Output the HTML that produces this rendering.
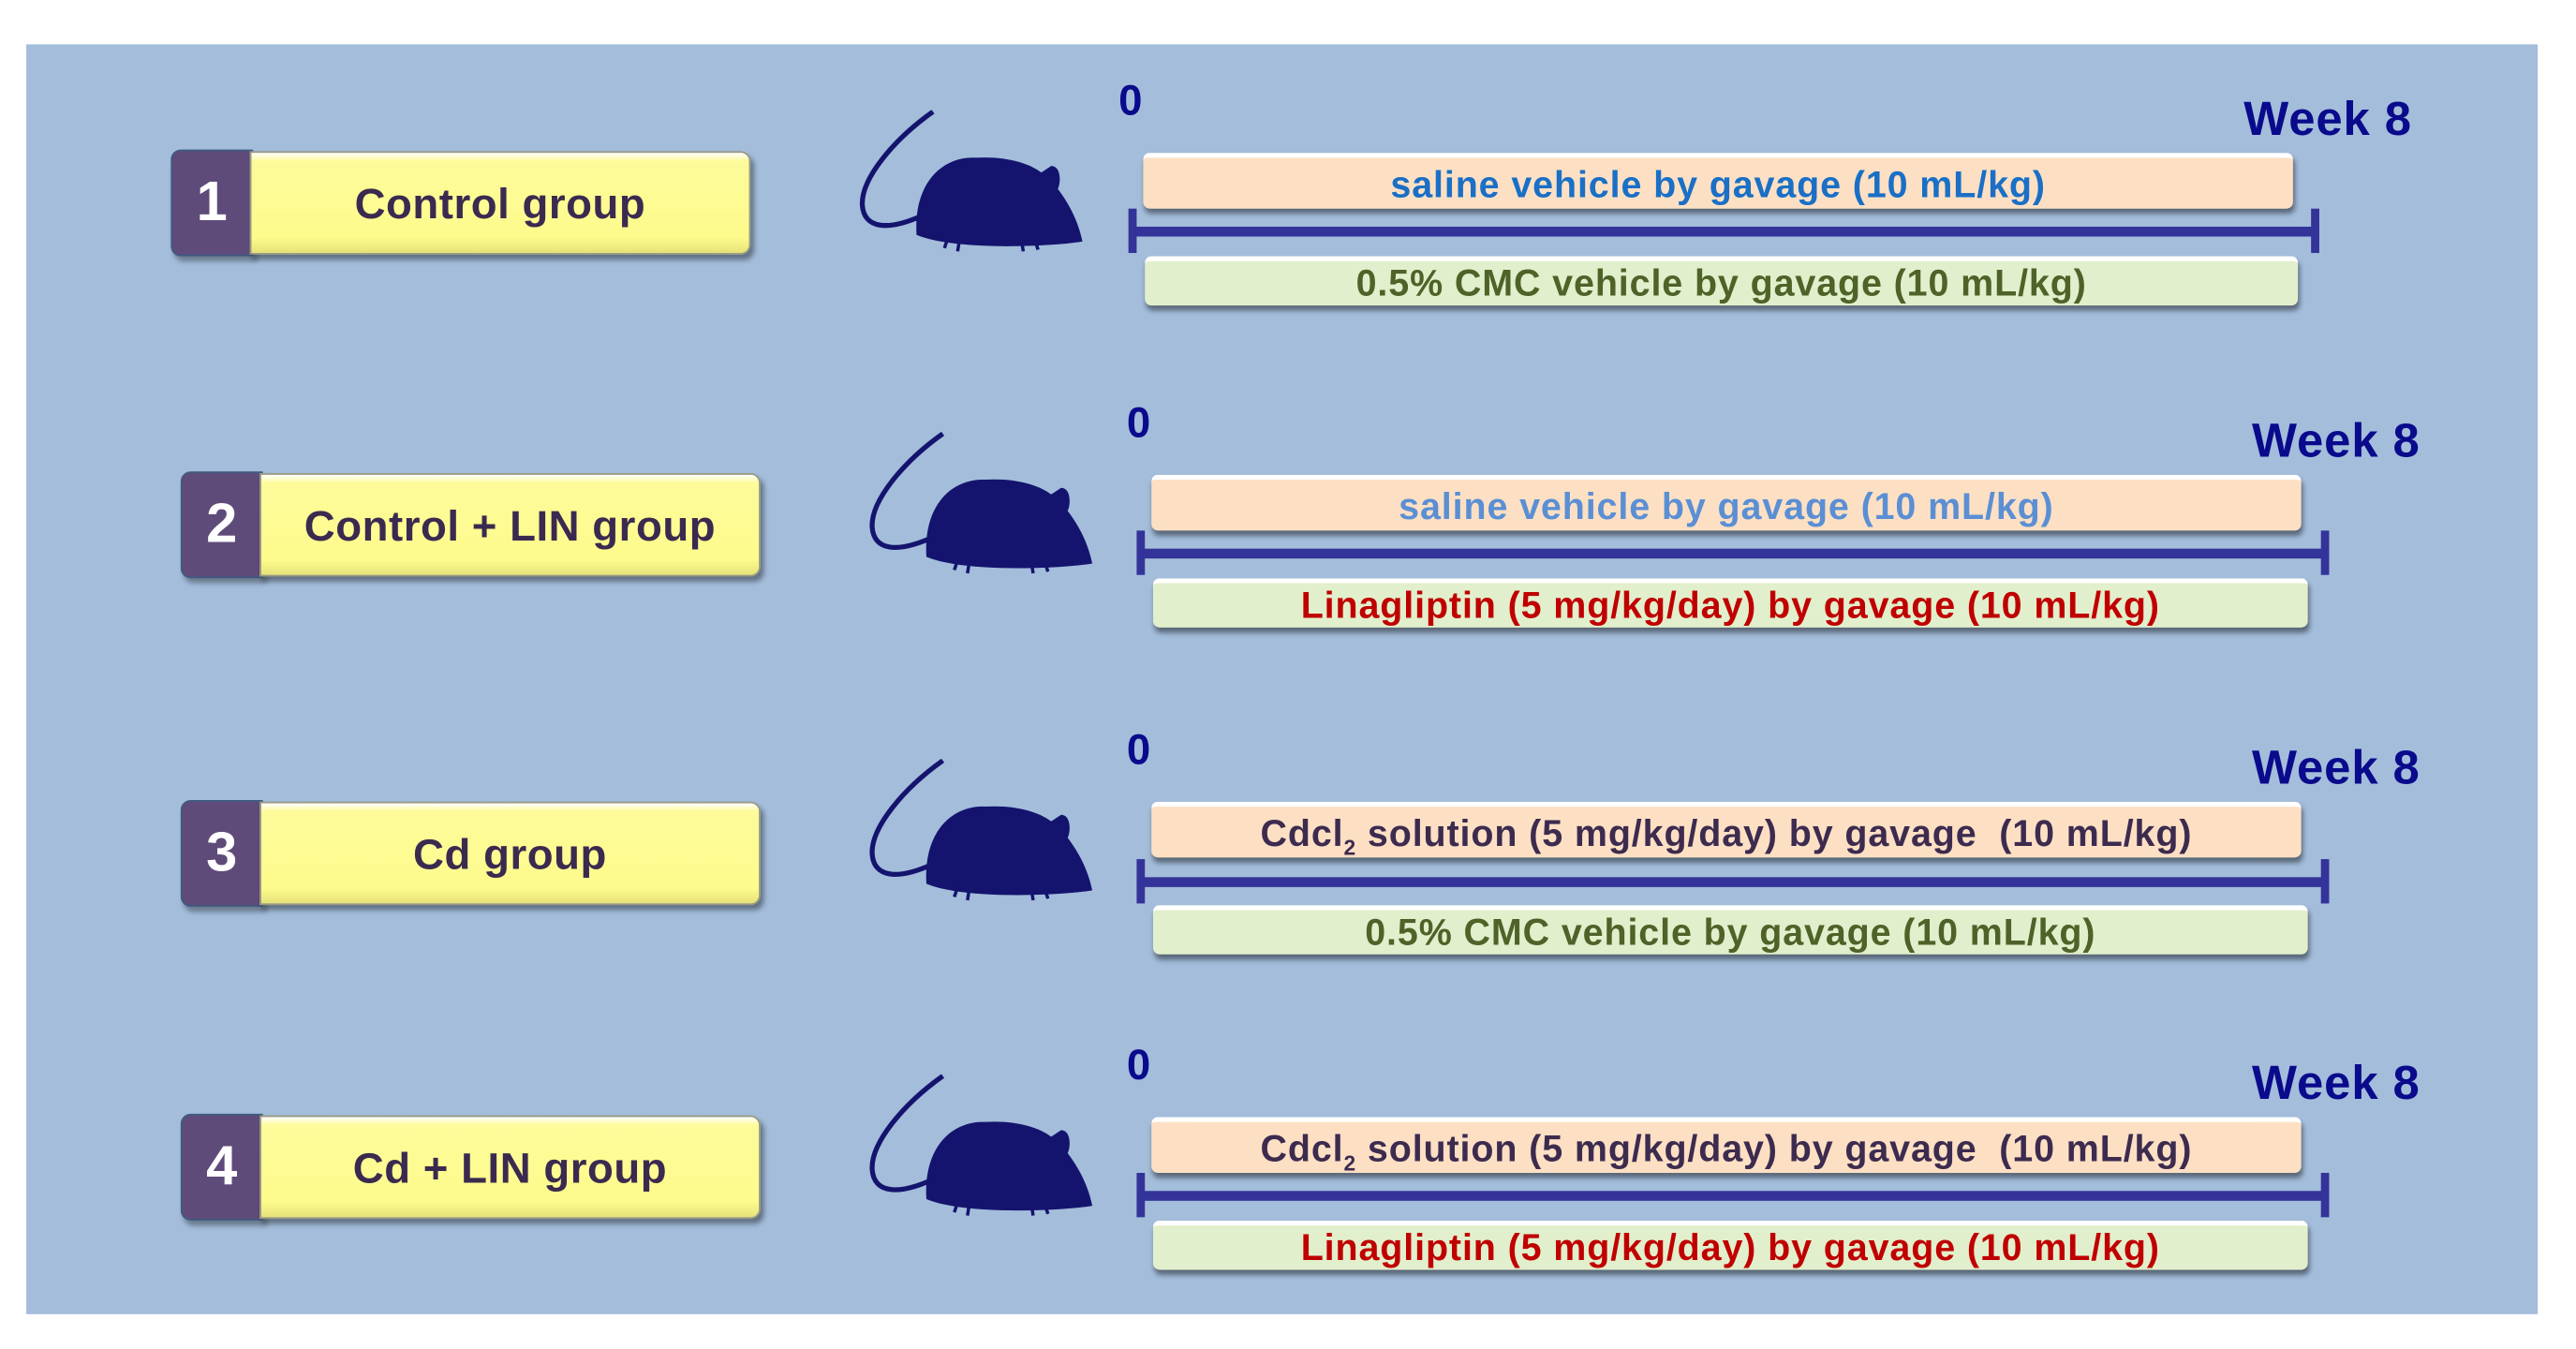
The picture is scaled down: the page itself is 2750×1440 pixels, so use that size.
<!DOCTYPE html>
<html><head><meta charset="utf-8"><style>
html,body{margin:0;padding:0;background:#fff;overflow:hidden}
#s{position:absolute;left:0;top:0;width:1568px;height:821px;transform:scale(1.7535);transform-origin:0 0;font-family:"Liberation Sans",sans-serif}
.bg{position:absolute;left:16px;top:27px;width:1529px;height:773px;background:#a3bddb}
.row{position:absolute;left:0;width:1568px;height:200px}
.num{position:absolute;width:48px;height:63px;background:#5f4b7a;border:1px solid #3e5a80;border-radius:6px 0 0 6px;color:#fff;font-weight:bold;font-size:34px;text-align:center;line-height:63px;box-shadow:2px 3px 3px rgba(0,0,0,.35)}
.grp{position:absolute;width:303px;height:61px;background:linear-gradient(#ffffff 0,#fdfb9a 5px,#fdfb8c 85%,#e6e27a 100%);border:1px solid #9a9a80;border-radius:0 6px 6px 0;color:#3b2a4f;font-weight:bold;font-size:26px;text-align:center;line-height:63px;box-shadow:2px 3px 3px rgba(0,0,0,.4);letter-spacing:0.3px}
.bar{position:absolute;height:34px;border-radius:4px;font-weight:bold;font-size:22.5px;text-align:center;line-height:34px;box-shadow:1px 3px 3px rgba(0,0,0,.45);border-top:3px solid #fff;box-sizing:border-box;letter-spacing:0.5px;white-space:nowrap}
.or{background:#fde0c4}
.gr{background:#e2efcc;height:30px;line-height:28px}
.line{position:absolute;height:6px;background:#333399}
.tick{position:absolute;width:5px;height:27px;background:#333399}
.zero{position:absolute;color:#0a0a8c;font-weight:bold;font-size:26px}
.wk{position:absolute;color:#0a0a8c;font-weight:bold;font-size:29px;letter-spacing:0.5px}
svg.m{position:absolute}
</style></head><body><div id="s">
<div class="bg"></div>

<svg width="0" height="0" style="position:absolute"><defs>
<g id="mouse">
<path d="M46 1 C22 18 2 42 3 58 C4 72 18 74 40 64" fill="none" stroke="#14146e" stroke-width="3"/>
<path d="M36 76 C34 44 52 28 72 29 C90 28 104 32 112 38 L118 34 C124 34 124 44 122 48 C128 56 134 66 137 80 C120 83 60 86 36 76 Z" fill="#14146e"/>
<path d="M55 78 l-2 6 M62 80 l-1 6 M100 80 l1 6 M108 79 l2 6" stroke="#14146e" stroke-width="2"/>
</g></defs></svg>

<!-- Row 1 -->
<div class="row" style="top:0">
<div class="num" style="left:104px;top:91px">1</div>
<div class="grp" style="left:152px;top:92px">Control group</div>
<svg class="m" style="left:522px;top:67px" width="140" height="90" viewBox="0 0 140 90"><use href="#mouse"/></svg>
<div class="zero" style="left:681px;top:46px">0</div>
<div class="wk" style="left:1366px;top:57px">Week 8</div>
<div class="bar or" style="left:696px;top:93px;width:700px;color:#1a6fc6">saline vehicle by gavage (10 mL/kg)</div>
<div class="line" style="left:690px;top:138px;width:722px"></div>
<div class="tick" style="left:687px;top:127px"></div>
<div class="tick" style="left:1407px;top:127px"></div>
<div class="bar gr" style="left:697px;top:156px;width:702px;color:#4f6228">0.5% CMC vehicle by gavage (10 mL/kg)</div>
</div>

<!-- Row 2 -->
<div class="row" style="top:196px">
<div class="num" style="left:110px;top:91px">2</div>
<div class="grp" style="left:158px;top:92px">Control + LIN group</div>
<svg class="m" style="left:528px;top:67px" width="140" height="90" viewBox="0 0 140 90"><use href="#mouse"/></svg>
<div class="zero" style="left:686px;top:46px">0</div>
<div class="wk" style="left:1371px;top:57px">Week 8</div>
<div class="bar or" style="left:701px;top:93px;width:700px;color:#5b8fd4">saline vehicle by gavage (10 mL/kg)</div>
<div class="line" style="left:695px;top:138px;width:722px"></div>
<div class="tick" style="left:692px;top:127px"></div>
<div class="tick" style="left:1413px;top:127px"></div>
<div class="bar gr" style="left:702px;top:156px;width:703px;color:#c00000">Linagliptin (5 mg/kg/day) by gavage (10 mL/kg)</div>
</div>

<!-- Row 3 -->
<div class="row" style="top:395px">
<div class="num" style="left:110px;top:92px">3</div>
<div class="grp" style="left:158px;top:93px">Cd group</div>
<svg class="m" style="left:528px;top:67px" width="140" height="90" viewBox="0 0 140 90"><use href="#mouse"/></svg>
<div class="zero" style="left:686px;top:46px">0</div>
<div class="wk" style="left:1371px;top:57px">Week 8</div>
<div class="bar or" style="left:701px;top:93px;width:700px;color:#3d2b4f">Cdcl<sub style="font-size:13px">2</sub> solution (5 mg/kg/day) by gavage&nbsp; (10 mL/kg)</div>
<div class="line" style="left:695px;top:139px;width:722px"></div>
<div class="tick" style="left:692px;top:128px"></div>
<div class="tick" style="left:1413px;top:128px"></div>
<div class="bar gr" style="left:702px;top:156px;width:703px;color:#4f6228">0.5% CMC vehicle by gavage (10 mL/kg)</div>
</div>

<!-- Row 4 -->
<div class="row" style="top:587px">
<div class="num" style="left:110px;top:91px">4</div>
<div class="grp" style="left:158px;top:92px">Cd + LIN group</div>
<svg class="m" style="left:528px;top:67px" width="140" height="90" viewBox="0 0 140 90"><use href="#mouse"/></svg>
<div class="zero" style="left:686px;top:46px">0</div>
<div class="wk" style="left:1371px;top:57px">Week 8</div>
<div class="bar or" style="left:701px;top:93px;width:700px;color:#3d2b4f">Cdcl<sub style="font-size:13px">2</sub> solution (5 mg/kg/day) by gavage&nbsp; (10 mL/kg)</div>
<div class="line" style="left:695px;top:138px;width:722px"></div>
<div class="tick" style="left:692px;top:127px"></div>
<div class="tick" style="left:1413px;top:127px"></div>
<div class="bar gr" style="left:702px;top:156px;width:703px;color:#c00000">Linagliptin (5 mg/kg/day) by gavage (10 mL/kg)</div>
</div>

</div></body></html>
